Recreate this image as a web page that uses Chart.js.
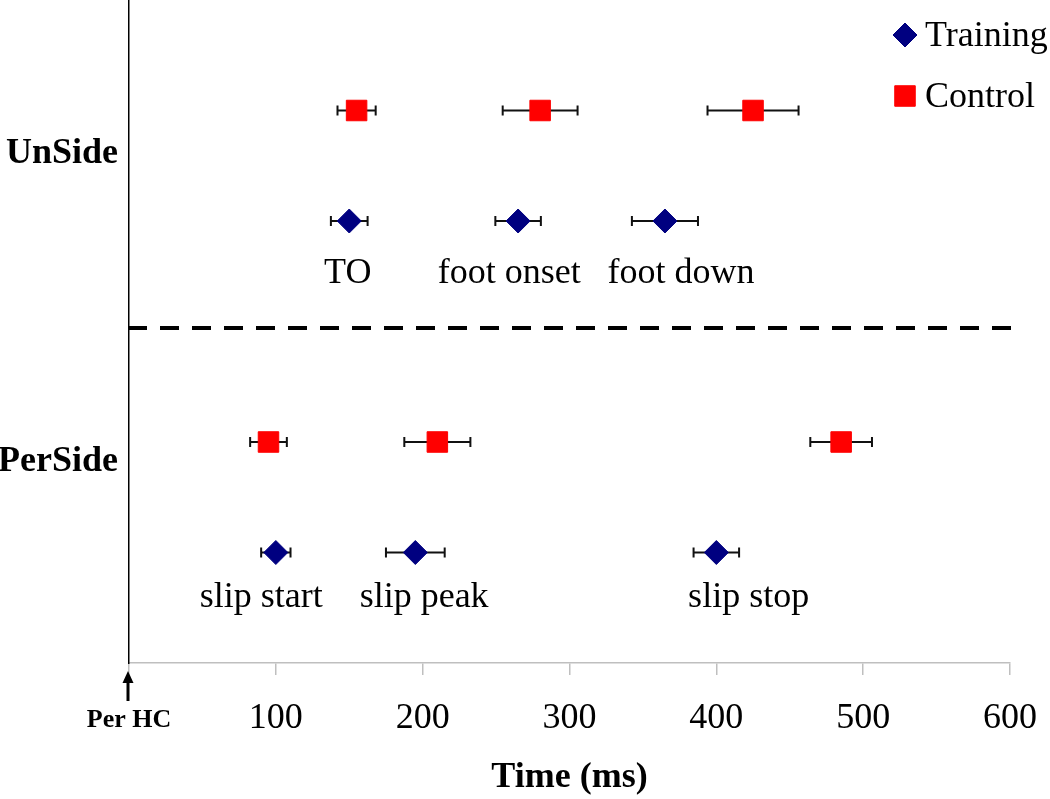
<!DOCTYPE html>
<html><head><meta charset="utf-8">
<script src="https://cdn.jsdelivr.net/npm/chart.js@4.4.0/dist/chart.umd.min.js"></script>
<style>html,body{margin:0;padding:0;background:#fff}#wrap{width:1050px;height:799px}</style>
</head><body><div id="wrap"><canvas id="c" width="1050" height="799"></canvas></div>
<script>
// ---- data ----
const groups = ['UnSide', 'PerSide'];
const eventGroup = ['UnSide', 'UnSide', 'UnSide', 'PerSide', 'PerSide', 'PerSide'];
const eventNames = ['TO', 'foot onset', 'foot down', 'slip start', 'slip peak', 'slip stop'];
const trainingMean = [150, 265, 365, 100, 195, 400];
const trainingErr  = [12.5, 15.5, 22.5, 10, 20, 15.5];
const controlMean  = [155, 280, 425, 95, 210, 485];
const controlErr   = [13, 25.5, 31, 12.5, 22.5, 21];
const xTicks = [0, 100, 200, 300, 400, 500, 600];
const zeroTickLabel = 'Per HC';
const xTitle = 'Time (ms)';
const seriesNames = ['Training', 'Control'];

// ---- layout helpers (row positions on the y scale) ----
const trainingRow = { UnSide: 4, PerSide: 1 };
const controlRow  = { UnSide: 5, PerSide: 2 };
const groupLabelY = { UnSide: 4.606, PerSide: 1.819 };
const eventLabelY = { UnSide: 3.44, PerSide: 0.507 };
const eventLabelX = [149, 259, 376, 90, 201, 422];
const dividerY = 3.03;

const SERIF = '"Liberation Serif", "Times New Roman", serif';
const NAVY = '#000080', RED = '#ff0000';

const trainingData = trainingMean.map((v, i) => ({ x: v, y: trainingRow[eventGroup[i]], err: trainingErr[i] }));
const controlData  = controlMean.map((v, i) => ({ x: v, y: controlRow[eventGroup[i]], err: controlErr[i] }));

const overlay = {
  id: 'overlay',
  beforeDatasetsDraw(chart) {
    const { ctx, scales: { x, y } } = chart;
    ctx.save();
    // dashed divider
    ctx.strokeStyle = '#000';
    ctx.lineWidth = 4;
    ctx.setLineDash([19, 13]);
    const dy = Math.round(y.getPixelForValue(dividerY));
    ctx.beginPath();
    ctx.moveTo(x.left - 1, dy);
    ctx.lineTo(x.right + 6, dy);
    ctx.stroke();
    ctx.setLineDash([]);
    // error bars
    ctx.lineWidth = 2;
    ctx.strokeStyle = '#111';
    chart.data.datasets.forEach(ds => {
      ds.data.forEach(p => {
        const x0 = x.getPixelForValue(p.x - p.err), x1 = x.getPixelForValue(p.x + p.err);
        const py = y.getPixelForValue(p.y);
        ctx.beginPath();
        ctx.moveTo(x0, py); ctx.lineTo(x1, py);
        ctx.moveTo(x0, py - 5); ctx.lineTo(x0, py + 5);
        ctx.moveTo(x1, py - 5); ctx.lineTo(x1, py + 5);
        ctx.stroke();
      });
    });
    ctx.restore();
  },
  afterDraw(chart) {
    const { ctx, scales: { x, y } } = chart;
    ctx.save();
    // event labels
    ctx.fillStyle = '#000';
    ctx.font = '36px ' + SERIF;
    ctx.textAlign = 'center';
    ctx.textBaseline = 'alphabetic';
    eventNames.forEach((n, i) => {
      ctx.fillText(n, x.getPixelForValue(eventLabelX[i]), y.getPixelForValue(eventLabelY[eventGroup[i]]));
    });
    // legend
    const items = [
      { name: seriesNames[0], style: 'rectRot', r: 12, c: NAVY, cy: 35 },
      { name: seriesNames[1], style: 'rect', r: 14.5, c: RED, cy: 96 }
    ];
    ctx.textAlign = 'left';
    ctx.textBaseline = 'middle';
    items.forEach(it => {
      ctx.fillStyle = it.c; ctx.strokeStyle = it.c; ctx.lineWidth = 1;
      Chart.helpers.drawPoint(ctx, { pointStyle: it.style, radius: it.r, borderWidth: 1, rotation: 0 }, 905, it.cy);
      ctx.fillStyle = '#000';
      ctx.fillText(it.name, 925, it.cy + 2);
    });
    // arrow under the origin
    const ax = x.left - 1;
    ctx.strokeStyle = '#000'; ctx.fillStyle = '#000'; ctx.lineWidth = 3;
    ctx.beginPath(); ctx.moveTo(ax, 701); ctx.lineTo(ax, 680); ctx.stroke();
    ctx.beginPath(); ctx.moveTo(ax, 671); ctx.lineTo(ax - 5.5, 683); ctx.lineTo(ax + 5.5, 683); ctx.closePath(); ctx.fill();
    ctx.restore();
  }
};

new Chart(document.getElementById('c'), {
  type: 'scatter',
  data: {
    datasets: [
      { label: seriesNames[0], data: trainingData, pointStyle: 'rectRot', pointRadius: 12, pointHoverRadius: 12,
        backgroundColor: NAVY, borderColor: NAVY, borderWidth: 1 },
      { label: seriesNames[1], data: controlData, pointStyle: 'rect', pointRadius: 14.5, pointHoverRadius: 14.5,
        backgroundColor: RED, borderColor: RED, borderWidth: 1 }
    ]
  },
  options: {
    responsive: false,
    animation: false,
    devicePixelRatio: 1,
    layout: { autoPadding: false, padding: { top: 0, right: 40, bottom: 0, left: 0 } },
    plugins: { legend: { display: false }, tooltip: { enabled: false } },
    scales: {
      x: {
        type: 'linear', min: 0, max: 600,
        afterBuildTicks(s) { s.ticks = xTicks.map(v => ({ value: v })); },
        afterFit(s) { s.height = 136; s.paddingLeft = 0; s.paddingRight = 0; },
        grid: { display: true, drawOnChartArea: false, drawTicks: true, tickLength: 12, color: '#bfbfbf', lineWidth: 1.5 },
        border: { display: true, color: '#bfbfbf', width: 1.5 },
        ticks: {
          autoSkip: false, maxRotation: 0, padding: 22, color: '#000',
          callback: (v) => v === 0 ? zeroTickLabel : String(v),
          font: (ctx) => (ctx.tick && ctx.tick.value === 0)
            ? { family: SERIF, size: 26, weight: 'bold', lineHeight: 1.77 }
            : { family: SERIF, size: 36, lineHeight: 1.2 }
        },
        title: { display: true, text: xTitle, color: '#000', padding: { top: 0, bottom: 0 },
          font: { family: SERIF, size: 36, weight: 'bold', lineHeight: 1.2 } }
      },
      y: {
        type: 'linear', min: 0, max: 6,
        afterBuildTicks(s) { s.ticks = groups.map(g => ({ value: groupLabelY[g] })); },
        afterFit(s) { s.width = 129; s.paddingTop = 0; s.paddingBottom = 0; },
        grid: { display: false, drawTicks: false },
        border: { display: true, color: '#000', width: 1.5 },
        ticks: {
          padding: 11, color: '#000',
          callback: (v, i) => groups[i],
          font: { family: SERIF, size: 36, weight: 'bold' }
        }
      }
    }
  },
  plugins: [overlay]
});
</script>
</body></html>
